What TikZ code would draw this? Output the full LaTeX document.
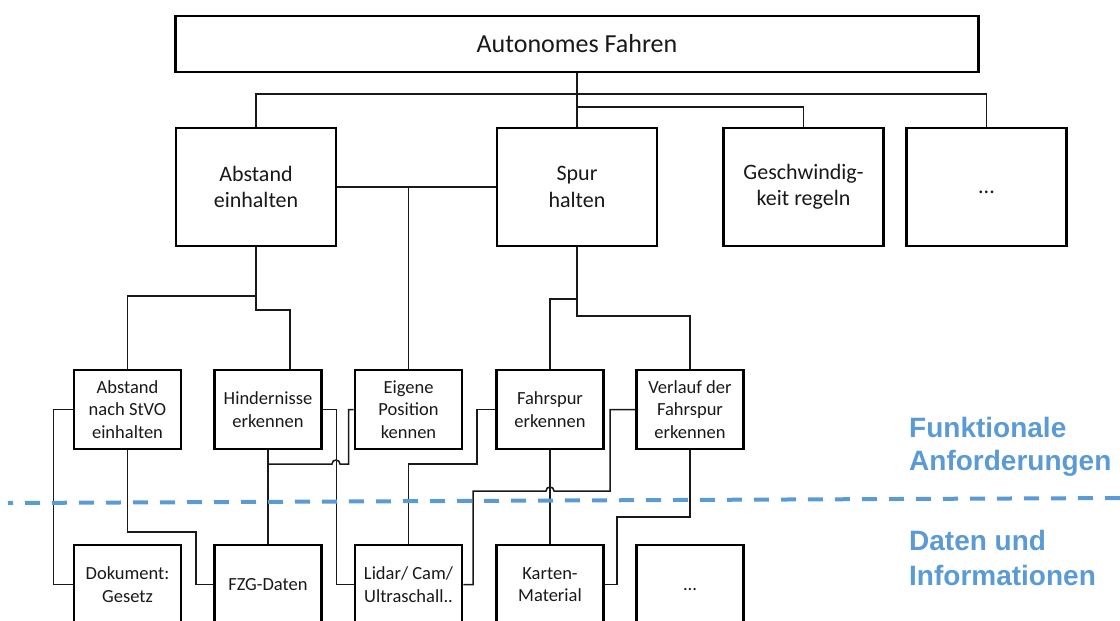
\documentclass[tikz,border=0pt]{standalone}
\usepackage{fontspec}
\setmainfont{Carlito}
\newfontfamily\labelfont{Liberation Sans}
\definecolor{sepblue}{HTML}{5B9BD5}
\begin{document}
\begin{tikzpicture}[x=1pt,y=-1pt,
  box/.style={draw=black, line width=2.6pt, fill=white, inner sep=0pt, align=center, text=black!90},
  topbox/.style={box, minimum width=803pt, minimum height=56pt, font=\fontsize{26}{31}\selectfont},
  midbox/.style={box, minimum width=160pt, minimum height=118pt, font=\fontsize{22}{26.5}\selectfont},
  lowbox/.style={box, minimum width=107pt, minimum height=79pt, font=\fontsize{18.5}{22.7}\selectfont},
  dotsmid/.style={text height=13pt, text depth=0pt},
  dotslow/.style={text height=11pt, text depth=0pt},
  link/.style={draw=black!90, line width=1.5pt},
  divider/.style={draw=sepblue, line width=4pt, dash pattern=on 15pt off 12pt, dash phase=10pt},
  lab/.style={font=\labelfont\bfseries\fontsize{28}{34}\selectfont, text=sepblue, inner sep=0pt, anchor=base west}
]
\useasboundingbox (0,0) rectangle (1120,621);
\clip (0,0) rectangle (1120,621);

% goal
\node[topbox] (top) at (577,44) {Autonomes Fahren};

% sub-goals
\node[midbox] (abst) at (256,187) {Abstand\\einhalten};
\node[midbox] (spur) at (577,187) {Spur\\halten};
\node[midbox] (gesch) at (803.5,187) {Geschwindig-\\keit regeln};
\node[midbox, dotsmid] (more) at (986.5,187) {...};

% functional requirements
\node[lowbox] (stvo) at (127.5,409.5) {Abstand\\nach StVO\\einhalten};
\node[lowbox] (hind) at (268,409.5) {Hindernisse\\erkennen};
\node[lowbox] (pos)  at (408.5,409.5) {Eigene\\Position\\kennen};
\node[lowbox] (fspur) at (550,409.5) {Fahrspur\\erkennen};
\node[lowbox] (verl) at (690,409.5) {Verlauf der\\Fahrspur\\erkennen};

% data and information
\node[lowbox] (dok) at (127.5,584.5) {Dokument:\\Gesetz};
\node[lowbox] (fzg) at (268,584.5) {FZG-Daten};
\node[lowbox] (lid) at (408.5,584.5) {Lidar/ Cam/\\Ultraschall..};
\node[lowbox] (kart) at (550,584.5) {Karten-\\Material};
\node[lowbox, dotslow] (more2) at (690,584.5) {...};

% goal tree
\draw[link] (top.south) -- (spur.north);
\draw[link] (abst.north) |- (577,94) -| (more.north);
\draw[link] (577,107) -| (gesch.north);
\draw[link] (abst.east) -- (spur.west);
\draw[link] (pos.north) -- (pos.north |- abst.east);
\draw[link] (abst.south) |- (256,296) -| (stvo.north);
\draw[link] (256,296) |- (290,310) -- (290,369);
\draw[link] (spur.south) |- (577,299) -| (fspur.north);
\draw[link] (577,299) |- (690,316) -| (verl.north);

% requirements to data
\draw[link] (stvo.west) -- ++(-19,0) |- (dok.west);
\draw[link] (stvo.south) |- (196,532) |- (fzg.west);
\draw[link] (hind.south) -- (fzg.north);
\draw[link] (hind.east) -- ++(13.5,0) |- (lid.west);
\draw[link] (pos.west) -- ++(-5,0) |- (340,464)
  .. controls (340,458.7) and (332,458.7) .. (332,464) -- (hind.south |- 0,464);
\draw[link] (fspur.west) -| (477,464) -| (lid.north);
\draw[link] (fspur.south) -- (kart.north);
\draw[link] (verl.west) -| (610,491) -- (554,491)
  .. controls (554,485.7) and (546,485.7) .. (546,491) -- (473,491) |- (lid.east);
\draw[link] (verl.south) |- (617,517) |- (kart.east);

% layer separator and captions
\draw[divider] (8,503) -- (1120,498);
\node[lab] (funk) at (909,437) {Funktionale};
\node[lab] (anf) at (909,470) {Anforderungen};
\node[lab] (daten) at (909,550) {Daten und};
\node[lab] (info) at (909,585) {Informationen};
\end{tikzpicture}
\end{document}
